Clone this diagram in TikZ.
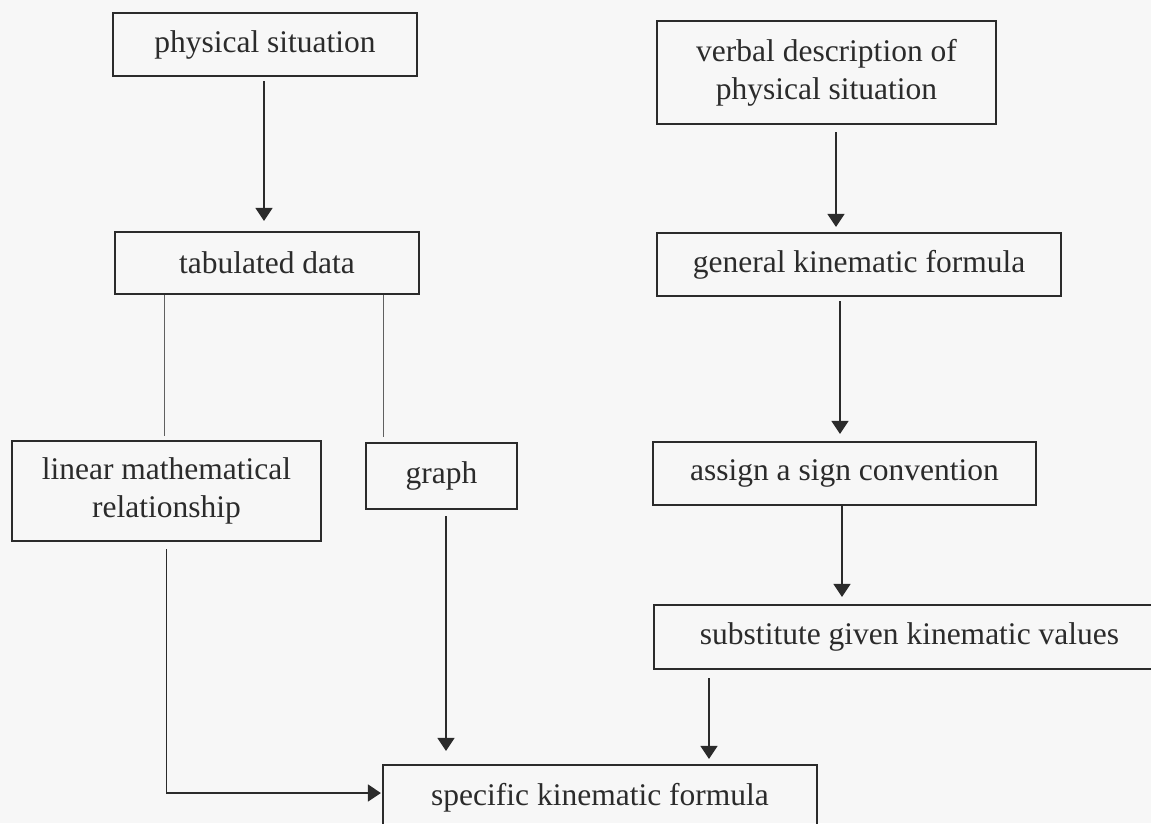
\documentclass[tikz,border=0pt]{standalone}
\usepackage{fontspec}
\setmainfont{Liberation Serif}
\usetikzlibrary{arrows.meta,calc}
\definecolor{ink}{HTML}{2B2B2B}
\definecolor{paper}{HTML}{F7F7F7}
\begin{document}
\begin{tikzpicture}[x=1pt,y=-1pt,
  box/.style={draw=ink,line width=2.2pt,text=ink,inner sep=0pt,align=center,
    font=\fontsize{31.5}{38}\selectfont},
  arr/.style={draw=ink,line width=1.4pt,-{Triangle[width=17pt,length=13pt]}},
  thin/.style={draw=ink!75,line width=0.9pt}]
\fill[paper] (0,0) rectangle (1151,823);
\useasboundingbox (0,0) rectangle (1151,823);
\node[box,minimum width=304pt,minimum height=63pt] (phys) at (265,44.5) {physical situation};
\node[box,minimum width=304pt,minimum height=62pt] (tab) at (267,263) {tabulated data};
\node[box,minimum width=339pt,minimum height=103pt] (verb) at (826.5,72.5) {verbal description of\\physical situation};
\node[box,minimum width=404pt,minimum height=63pt] (gen) at (859,264.5) {general kinematic formula};
\node[box,minimum width=309pt,minimum height=100pt] (lin) at (166.5,491) {linear mathematical\\relationship};
\node[box,minimum width=151pt,minimum height=66pt] (graph) at (441.5,476) {graph};
\node[box,minimum width=383pt,minimum height=63pt] (assign) at (844.5,473.5) {assign a sign convention};
\node[box,minimum width=511pt,minimum height=64pt] (subst) at (909.5,637) {substitute given kinematic values};
\node[box,minimum width=434pt,minimum height=65pt] (spec) at (600,797.5) {specific kinematic formula};
% left column
\draw[arr,shorten <=4pt,shorten >=10pt] ([xshift=-1pt]phys.south) -- ([xshift=-1pt]phys.south |- tab.north);
\draw[thin,shorten >=4pt] ([xshift=-103pt]tab.south) -- ([xshift=-103pt]tab.south |- lin.north);
\draw[thin,shorten >=5pt] ([xshift=116pt]tab.south) -- ([xshift=116pt]tab.south |- graph.north);
\draw[arr,shorten <=6pt,shorten >=13pt] ([xshift=4.5pt]graph.south) -- ([xshift=4.5pt]graph.south |- spec.north);
\coordinate (lc) at ([yshift=4.5pt]lin.south |- spec.west);
\draw[arr,shorten >=1pt] ([yshift=-7pt]lin.south) -- (lc) -- ([yshift=4.5pt]spec.west);
% right column
\draw[arr,shorten <=7pt,shorten >=5pt] ([xshift=9.5pt]verb.south) -- ([xshift=9.5pt]verb.south |- gen.north);
\draw[arr,shorten <=4pt,shorten >=7pt] ([xshift=-19pt]gen.south) -- ([xshift=-19pt]gen.south |- assign.north);
\draw[arr,shorten >=7pt] ([xshift=-2.5pt]assign.south) -- ([xshift=-2.5pt]assign.south |- subst.north);
\draw[arr,shorten <=8pt,shorten >=5pt] ([xshift=-200.5pt]subst.south) -- ([xshift=-200.5pt]subst.south |- spec.north);
\end{tikzpicture}
\end{document}
